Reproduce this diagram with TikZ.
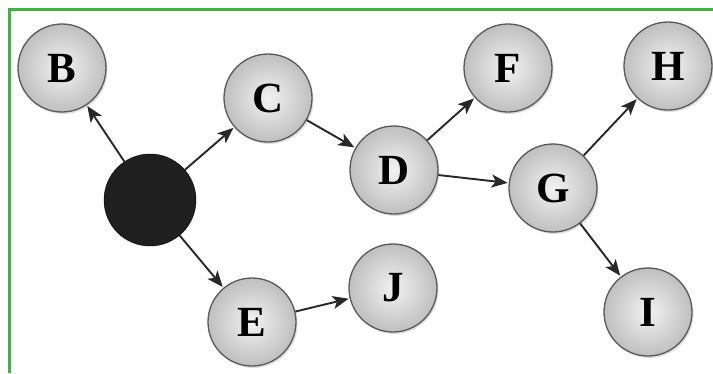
\documentclass[tikz,border=0pt]{standalone}
\usepackage{fontspec}
\setmainfont{Liberation Serif}
\usepackage{tikz}
\usetikzlibrary{arrows.meta,shadows}

\definecolor{framegreen}{RGB}{64,178,64}
\definecolor{edgegray}{RGB}{40,40,40}

\begin{document}
\begin{tikzpicture}[x=1pt, y=-1pt, >={Stealth[length=16pt,width=13pt,inset=4pt]},
    vertex/.style={circle, minimum size=88pt, inner sep=0pt, draw=black!65, line width=1.3pt,
      inner color=gray!10, outer color=gray!50,
      drop shadow={opacity=0.25, shadow xshift=1.5pt, shadow yshift=-2pt},
      font=\fontsize{43}{45}\selectfont\bfseries},
    source/.style={circle, minimum size=92pt, inner sep=0pt, fill=black!88, draw=black},
    link/.style={->, draw=edgegray, line width=1.9pt, shorten >=1pt}]
  \useasboundingbox (0,0) rectangle (713,373);
  \fill[white] (0,0) rectangle (713,373);

  % Frame (top and left only)
  \draw[framegreen, line width=3pt] (9,373) -- (9,9) -- (713,9);

  % Nodes
  \node[source] (A) at (150,200) {};
  \node[vertex] (B) at (62,68) {B};
  \node[vertex] (C) at (268,98) {C};
  \node[vertex] (D) at (394,170) {D};
  \node[vertex] (E) at (252,322) {E};
  \node[vertex] (F) at (508,68) {F};
  \node[vertex] (G) at (553,188) {G};
  \node[vertex] (H) at (668,66) {H};
  \node[vertex] (I) at (648,312) {I};
  \node[vertex] (J) at (393,288) {J};

  % Arrows
  \draw[link] (A) -- (B);
  \draw[link] (A) -- (C);
  \draw[link] (A) -- (E);
  \draw[link] (C) -- (D);
  \draw[link] (D) -- (F);
  \draw[link] (D) -- (G);
  \draw[link] (G) -- (H);
  \draw[link] (G) -- (I);
  \draw[link] (E) -- (J);
\end{tikzpicture}
\end{document}
